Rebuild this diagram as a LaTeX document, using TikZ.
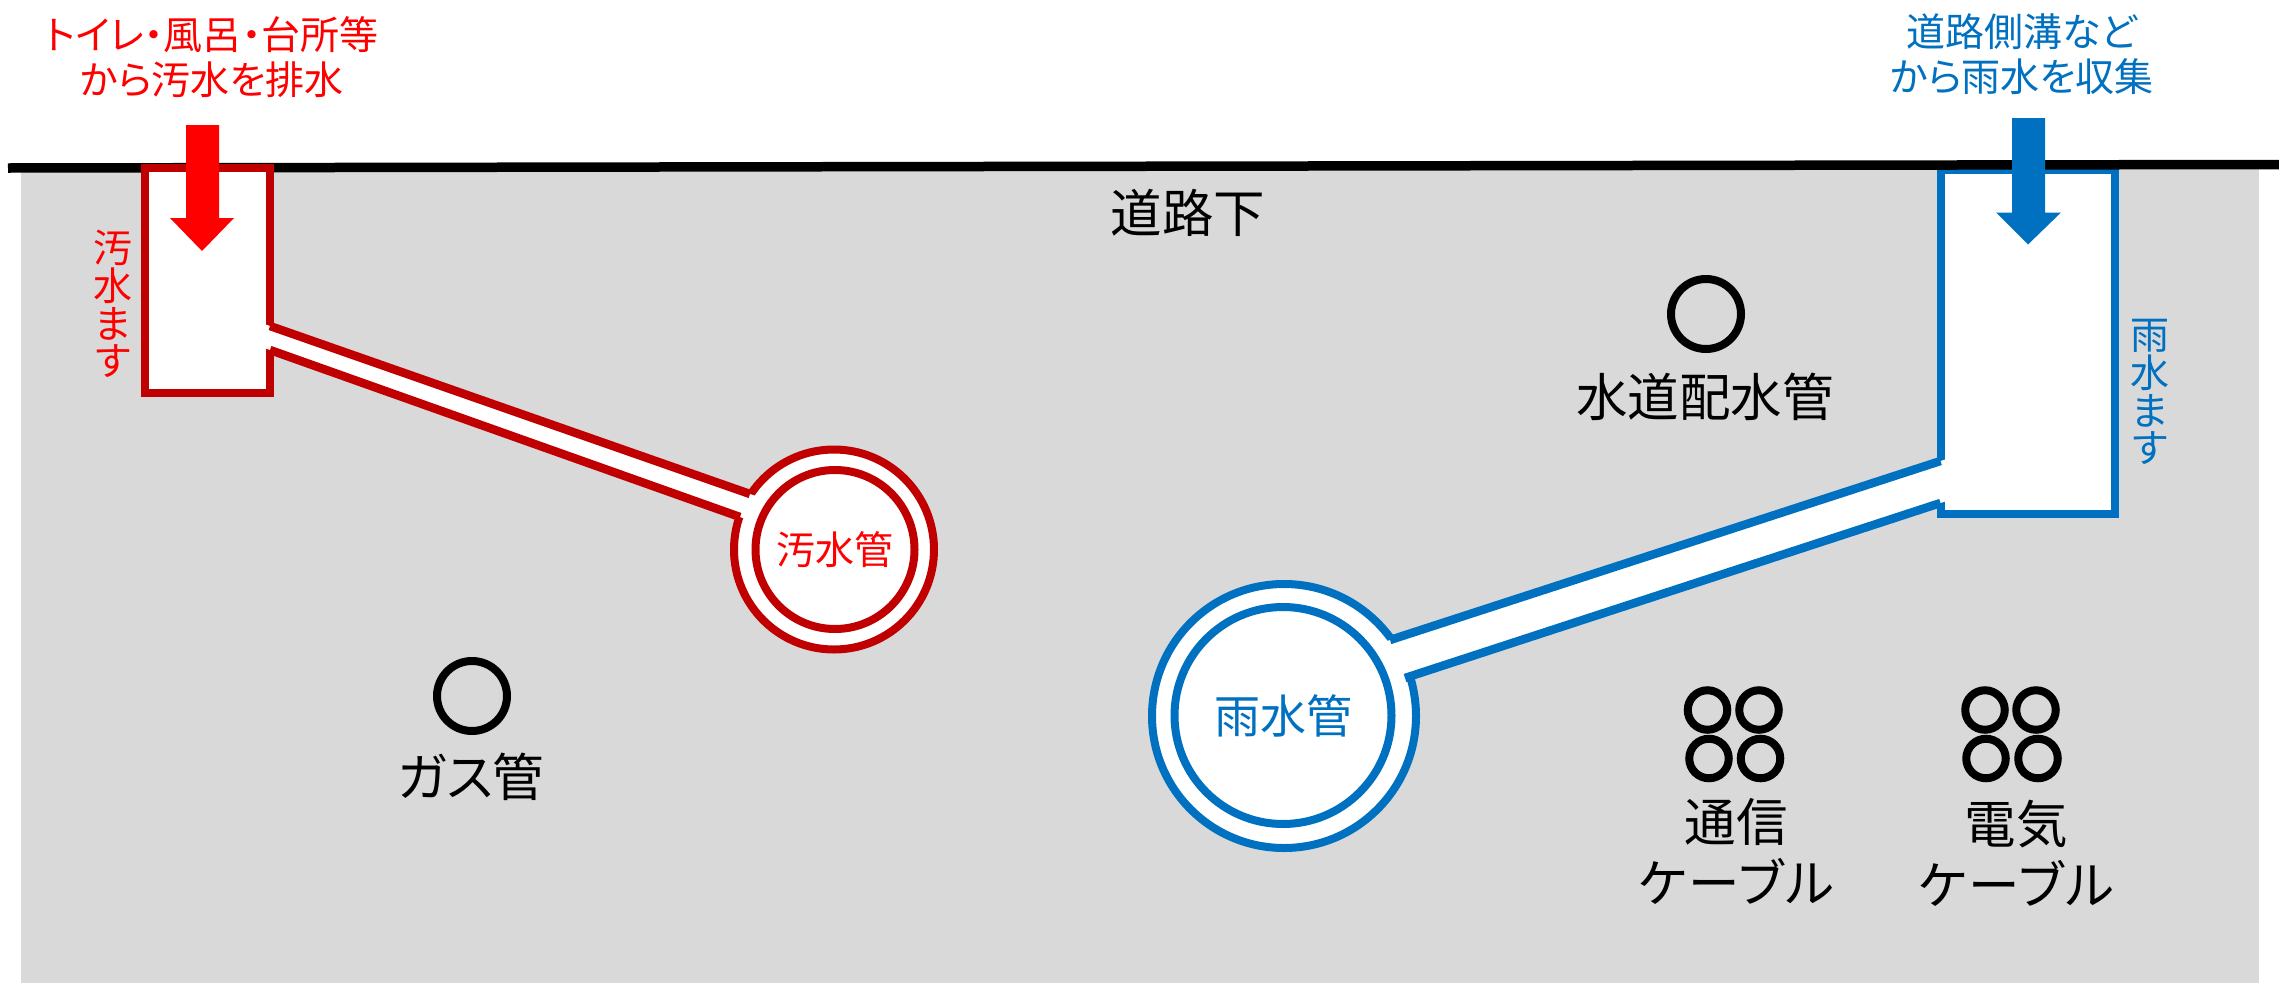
\documentclass[tikz,border=0pt]{standalone}
\usepackage{fontspec}
\usetikzlibrary{calc}
\setmainfont[RawFeature=+palt]{Noto Sans CJK JP}
\newfontfamily\cablefont[RawFeature=+palt,LetterSpace=4.4]{Noto Sans CJK JP}
\definecolor{gnd}{HTML}{D9D9D9}
\definecolor{sewer}{HTML}{C00000}
\definecolor{sewertxt}{HTML}{FF0000}
\definecolor{rain}{HTML}{0070C0}
\tikzset{
  wall/.style={line width=8pt,miter limit=10},
  pipewall/.style={line width=8.5pt,line cap=butt},
  lbl/.style={inner sep=0pt,outer sep=0pt,align=center,text=black},
  big/.style={lbl,font=\fontsize{51.5pt}{61pt}\selectfont},
  sewerlbl/.style={lbl,text=sewertxt,font=\fontsize{39pt}{45pt}\selectfont},
  rainlbl/.style={lbl,text=rain,font=\fontsize{39pt}{45pt}\selectfont},
  vert/.style={font=\fontsize{39pt}{37.8pt}\selectfont},
  util/.style={circle,draw=black,line width=8pt,minimum size=39.5pt,inner sep=0pt},
  bigutil/.style={util,minimum size=70pt},
  ring/.style={circle,line width=8pt,fill=white,inner sep=0pt}
}
\begin{document}
\begin{tikzpicture}[x=1pt,y=-1pt]
\useasboundingbox (0,0) rectangle (2279,983);
\fill[white] (0,0) rectangle (2279,983);
% ground
\fill[gnd] (21,167) rectangle (2259,983);
% rain box (beneath road line)
\node[draw=rain,wall,fill=white,minimum width=174pt,minimum height=344pt,inner sep=0pt] (rbox) at (2027.5,341.5) {};
% road line
\coordinate (roadL) at (8,168);
\coordinate (roadR) at (2279,164.5);
\draw[black,line width=9.5pt] (roadL) -- (roadR);
% sewer box
\node[draw=sewer,wall,fill=white,minimum width=125pt,minimum height=225pt,inner sep=0pt] (sbox) at (207,280) {};
% rings
\node[ring,draw=sewer,minimum size=200pt] (sring) at (834,549.5) {};
\node[ring,draw=rain,minimum size=264pt] (rring) at (1284,716) {};
% sewer pipe
\coordinate (sU0) at (270,326);
\coordinate (sU1) at (750,494);
\coordinate (sL0) at (270,350);
\coordinate (sL1) at (740,517);
\fill[white] ($(sU0)!-6pt!(sU1)$) -- ($(sU1)!-14pt!(sU0)$) -- ($(sL1)!-14pt!(sL0)$) -- ($(sL0)!-6pt!(sL1)$) -- cycle;
\draw[sewer,pipewall] (sU0) -- (sU1);
\draw[sewer,pipewall] (sL0) -- (sL1);
% rain pipe
\coordinate (rU0) at (1940.5,461);
\coordinate (rU1) at (1390,640);
\coordinate (rL0) at (1940.5,503);
\coordinate (rL1) at (1405,678);
\fill[white] ($(rU0)!-6pt!(rU1)$) -- ($(rU1)!-14pt!(rU0)$) -- ($(rL1)!-14pt!(rL0)$) -- ($(rL0)!-6pt!(rL1)$) -- cycle;
\draw[rain,pipewall] (rU0) -- (rU1);
\draw[rain,pipewall] (rL0) -- (rL1);
% inner circles
\node[ring,draw=sewer,minimum size=159pt,text=sewertxt,font=\fontsize{39pt}{45pt}\selectfont] (sinner) at (835,549.5) {汚水管};
\node[ring,draw=rain,minimum size=217pt,text=rain,font=\fontsize{46pt}{52pt}\selectfont] (rinner) at (1283,715.5) {雨水管};
% arrows
\fill[sewertxt] (186,125) -- (219,125) -- (219,218) -- (234,218) -- (202,251) -- (170,218) -- (186,218) -- cycle;
\fill[rain] (2012,118) -- (2045,118) -- (2045,212.5) -- (2061,212.5) -- (2028,244.5) -- (1996,212.5) -- (2012,212.5) -- cycle;
% utilities
\node[bigutil] (water) at (1706,314) {};
\node[bigutil] (gas) at (472,696) {};
\node[util] (c1) at (1707.5,710) {};
\node[util] (c2) at (1759,710) {};
\node[util] (c3) at (1709,758.5) {};
\node[util] (c4) at (1760.5,758.5) {};
\node[util] (p1) at (1985,710) {};
\node[util] (p2) at (2036,710) {};
\node[util] (p3) at (1986,758.5) {};
\node[util] (p4) at (2038,758.5) {};
% labels
\node[sewerlbl] (t1) at (212,57.5) {トイレ・風呂・台所等\\から汚水を排水};
\node[rainlbl] (t2) at (2022,54) {道路側溝など\\から雨水を収集};
\node[sewerlbl,vert] (t3) at (113,304) {汚\\水\\ま\\す};
\node[rainlbl,vert] (t4) at (2150,392) {雨\\水\\ま\\す};
\node[big] (t5) at (1188,213) {道路下};
\node[big] (t6) at (1705,397) {水道配水管};
\node[big] (t7) at (471,777) {ガス管};
\node[big] (t8) at (1736,851) {通信\\{\cablefont ケーブル}};
\node[big] (t9) at (2016,853) {電気\\{\cablefont ケーブル}};
\end{tikzpicture}
\end{document}
